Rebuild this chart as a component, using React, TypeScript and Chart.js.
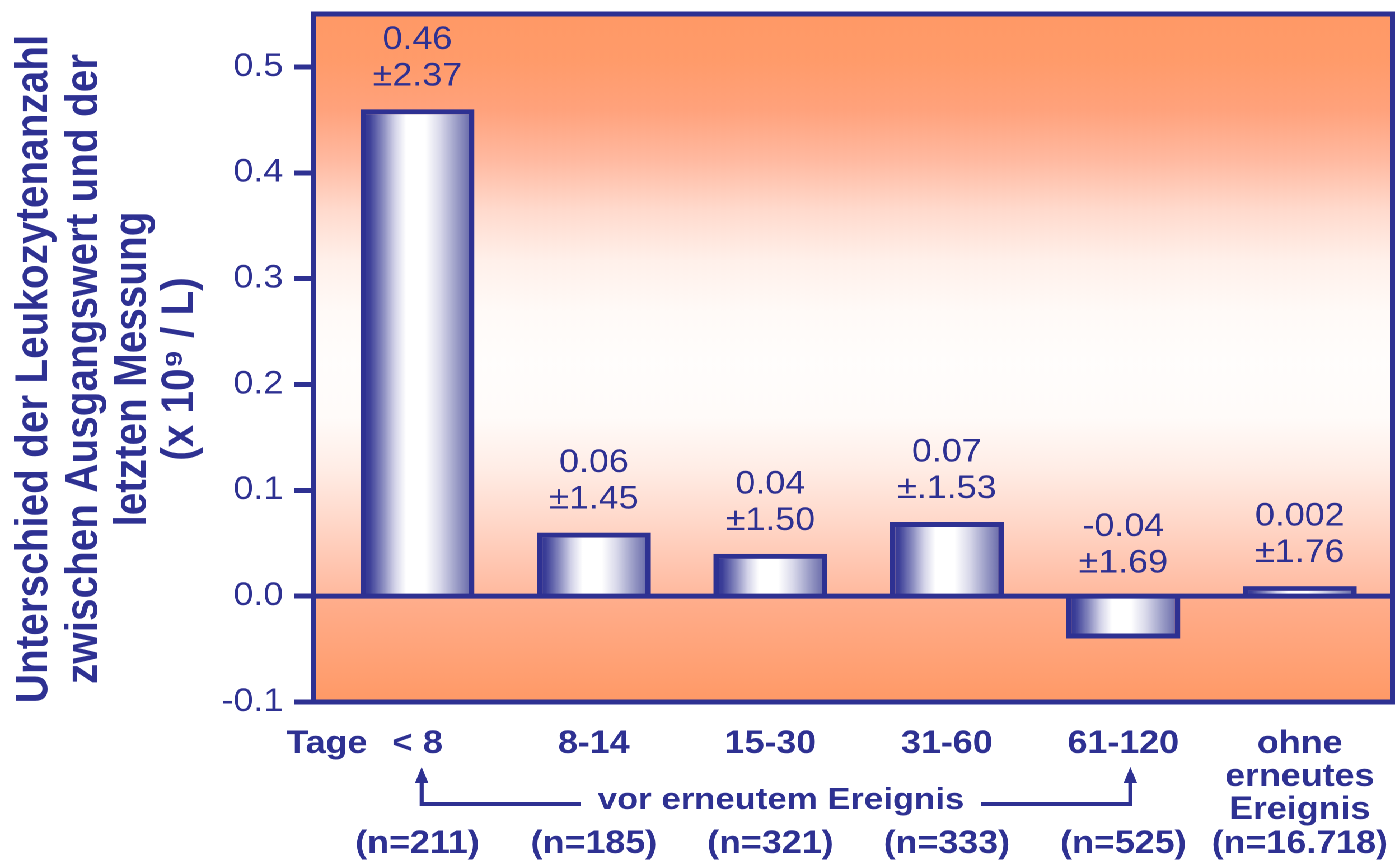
import React, { useEffect, useRef } from 'react';
import { Chart, registerables } from 'chart.js';

Chart.register(...registerables);

// ---- data ----
const categoryLabels: string[][] = [['< 8'], ['8-14'], ['15-30'], ['31-60'], ['61-120'], ['ohne', 'erneutes', 'Ereignis']];
const meanValues: number[] = [0.46, 0.06, 0.04, 0.07, -0.04, 0.002];
const meanLabels: string[] = ['0.46', '0.06', '0.04', '0.07', '-0.04', '0.002'];
const sdLabels: string[] = ['±2.37', '±1.45', '±1.50', '±.1.53', '±1.69', '±1.76'];
const nLabels: string[] = ['(n=211)', '(n=185)', '(n=321)', '(n=333)', '(n=525)', '(n=16.718)'];
const yAxisTitle: string[] = [
  'Unterschied der Leukozytenanzahl',
  'zwischen Ausgangswert und der',
  'letzten Messung',
  '(x 10⁹ / L)',
];
const dayPrefix = 'Tage';
const groupLabel = 'vor erneutem Ereignis';
const yMin = -0.1;
const yMax = 0.55;
const yStep = 0.1;

// ---- style ----
const NAVY = '#2E3192';
const FONT = '"Liberation Sans", Arial, Helvetica, sans-serif';
const CANVAS_W = 1246;
const CANVAS_H = 863;
const STRETCH = 1395 / CANVAS_W;
const X_MIN = -0.589;
const X_MAX = 5.527;
const BAR_FRACTION = 0.646;

function font(size: number, bold = false) {
  return `${bold ? 'bold ' : ''}${size}px ${FONT}`;
}

const backgroundPlugin = {
  id: 'bgPlugin',
  beforeDatasetsDraw(chart: any) {
    const { ctx, chartArea: a, scales } = chart;
    const z = scales.y.getPixelForValue(0);
    ctx.save();
    const g = ctx.createLinearGradient(0, a.top, 0, z);
    g.addColorStop(0, '#FF9966');
    g.addColorStop(0.08, '#FF9B6A');
    g.addColorStop(0.165, '#FFA27C');
    g.addColorStop(0.25, '#FFB9A0');
    g.addColorStop(0.337, '#FFDACD');
    g.addColorStop(0.423, '#FFF0EA');
    g.addColorStop(0.51, '#FFFAF7');
    g.addColorStop(0.6, '#FFFDFC');
    g.addColorStop(0.694, '#FFFBF9');
    g.addColorStop(0.78, '#FFEDE6');
    g.addColorStop(0.866, '#FFD9CB');
    g.addColorStop(0.952, '#FFC4AE');
    g.addColorStop(1, '#FFB99D');
    ctx.fillStyle = g;
    ctx.fillRect(a.left, a.top, a.right - a.left, z - a.top);
    const g2 = ctx.createLinearGradient(0, z, 0, a.bottom);
    g2.addColorStop(0, '#FFAE8D');
    g2.addColorStop(1, '#FF9966');
    ctx.fillStyle = g2;
    ctx.fillRect(a.left, z, a.right - a.left, a.bottom - z);
    ctx.restore();
  },
};

const framePlugin = {
  id: 'framePlugin',
  afterDatasetsDraw(chart: any) {
    const { ctx, chartArea: a, scales } = chart;
    const z = scales.y.getPixelForValue(0);
    ctx.save();
    ctx.strokeStyle = NAVY;
    ctx.lineWidth = 5;
    ctx.beginPath();
    ctx.moveTo(a.left, z);
    ctx.lineTo(a.right, z);
    ctx.stroke();
    ctx.strokeRect(a.left, a.top, a.right - a.left, a.bottom - a.top);

    // value labels above bars
    const meta = chart.getDatasetMeta(0);
    ctx.fillStyle = NAVY;
    ctx.font = font(32);
    ctx.textAlign = 'center';
    ctx.textBaseline = 'alphabetic';
    meta.data.forEach((bar: any, i: number) => {
      const p = bar.getProps(['x', 'y', 'base'], true);
      const top = Math.min(p.y, p.base);
      ctx.fillText(meanLabels[i], p.x, top - 60.5);
      ctx.fillText(sdLabels[i], p.x, top - 24);
    });
    ctx.restore();
  },
};

const annotationPlugin = {
  id: 'annotationPlugin',
  afterDraw(chart: any) {
    const { ctx, scales } = chart;
    const xs = scales.x;
    ctx.save();
    ctx.fillStyle = NAVY;
    ctx.strokeStyle = NAVY;

    // category labels
    ctx.font = font(32, true);
    ctx.textAlign = 'center';
    ctx.textBaseline = 'alphabetic';
    categoryLabels.forEach((lines, i) => {
      const px = xs.getPixelForValue(i);
      lines.forEach((t, j) => ctx.fillText(t, px, 753 + j * 33));
      ctx.fillText(nLabels[i], px, 853);
    });
    // "Tage" prefix
    const px0 = xs.getPixelForValue(0);
    const w0 = ctx.measureText(categoryLabels[0][0]).width;
    ctx.textAlign = 'right';
    ctx.fillText(dayPrefix, px0 - w0 / 2 - 22, 753);

    // group bracket with arrows
    const ax0 = xs.getPixelForValue(0) + 3.8;
    const ax1 = xs.getPixelForValue(4) + 6.3;
    const tx = xs.getPixelForValue(2.06);
    ctx.font = font(31, true);
    ctx.textAlign = 'center';
    ctx.fillText(groupLabel, tx, 809);
    const tw = ctx.measureText(groupLabel).width;
    const ly = 804;
    ctx.lineWidth = 4;
    ctx.beginPath();
    ctx.moveTo(ax0, ly);
    ctx.lineTo(tx - tw / 2 - 15, ly);
    ctx.moveTo(tx + tw / 2 + 15, ly);
    ctx.lineTo(ax1, ly);
    ctx.stroke();
    ctx.lineWidth = 3.6;
    [ax0, ax1].forEach((ax) => {
      ctx.beginPath();
      ctx.moveTo(ax, ly + 2);
      ctx.lineTo(ax, 780);
      ctx.stroke();
      ctx.beginPath();
      ctx.moveTo(ax, 767);
      ctx.lineTo(ax - 6, 783);
      ctx.lineTo(ax + 6, 783);
      ctx.closePath();
      ctx.fill();
    });

    // y axis title (rotated lines)
    ctx.font = font(40.5, true);
    ctx.textAlign = 'center';
    ctx.textBaseline = 'alphabetic';
    const baselines = [42.0, 86.6, 129.8, 172.6];
    yAxisTitle.forEach((t, i) => {
      ctx.save();
      ctx.translate(baselines[i], 369);
      ctx.rotate(-Math.PI / 2);
      ctx.fillText(t, 0, 0);
      ctx.restore();
    });
    ctx.restore();
  },
};

function barGradient(c: any) {
  const chart = c.chart;
  if (!chart.chartArea || c.dataIndex == null) return NAVY;
  const xs = chart.scales.x;
  const xv = c.parsed && typeof c.parsed.x === 'number' ? c.parsed.x : c.dataIndex;
  const cx = xs.getPixelForValue(xv);
  const w = (xs.getPixelForValue(1) - xs.getPixelForValue(0)) * BAR_FRACTION;
  const g = chart.ctx.createLinearGradient(cx - w / 2, 0, cx + w / 2, 0);
  g.addColorStop(0, '#2E3192');
  g.addColorStop(0.08, '#3C3F98');
  g.addColorStop(0.2, '#8A8CC0');
  g.addColorStop(0.3, '#D2D2E8');
  g.addColorStop(0.4, '#FFFFFF');
  g.addColorStop(0.57, '#FFFFFF');
  g.addColorStop(0.7, '#D8D8EA');
  g.addColorStop(0.83, '#A0A2CA');
  g.addColorStop(1, '#5C5EA2');
  return g;
}

export default function App() {
  const ref = useRef<HTMLCanvasElement | null>(null);

  useEffect(() => {
    if (!ref.current) return;
    const chart = new Chart(ref.current, {
      type: 'bar',
      data: {
        datasets: [
          {
            data: meanValues.map((v, i) => ({ x: i, y: v })),
            backgroundColor: barGradient as any,
            borderColor: NAVY,
            borderWidth: 5,
            categoryPercentage: 1,
            barPercentage: BAR_FRACTION,
            minBarLength: 10,
          } as any,
        ],
      },
      options: {
        responsive: false,
        maintainAspectRatio: false,
        devicePixelRatio: 2,
        animation: false,
        layout: { padding: { top: 14, right: 2, bottom: CANVAS_H - 702, left: 0 } },
        plugins: { legend: { display: false }, tooltip: { enabled: false }, title: { display: false } },
        scales: {
          x: {
            type: 'linear',
            min: X_MIN,
            max: X_MAX,
            offset: false,
            display: false,
            grid: { display: false },
            ticks: { stepSize: 1, includeBounds: false },
          },
          y: {
            type: 'linear',
            min: yMin,
            max: yMax,
            border: { display: false },
            grid: {
              drawOnChartArea: false,
              drawTicks: true,
              tickLength: 17,
              tickWidth: 5,
              tickColor: NAVY,
              color: NAVY,
            },
            ticks: {
              stepSize: yStep,
              includeBounds: false,
              padding: 10,
              color: NAVY,
              font: { family: FONT, size: 32 },
              callback: (v: any) => Number(v).toFixed(1),
            },
            afterFit: (scale: any) => {
              scale.width = 280;
              scale.paddingTop = 0;
              scale.paddingBottom = 0;
            },
          },
        },
      } as any,
      plugins: [backgroundPlugin, framePlugin, annotationPlugin],
    });
    return () => chart.destroy();
  }, []);

  return (
    <div
      style={{
        position: 'absolute',
        left: 0,
        top: 0,
        width: CANVAS_W,
        height: CANVAS_H,
        transform: `scaleX(${STRETCH})`,
        transformOrigin: '0 0',
        background: '#FFFFFF',
      }}
    >
      <canvas ref={ref} width={CANVAS_W} height={CANVAS_H} style={{ display: 'block' }} />
    </div>
  );
}
